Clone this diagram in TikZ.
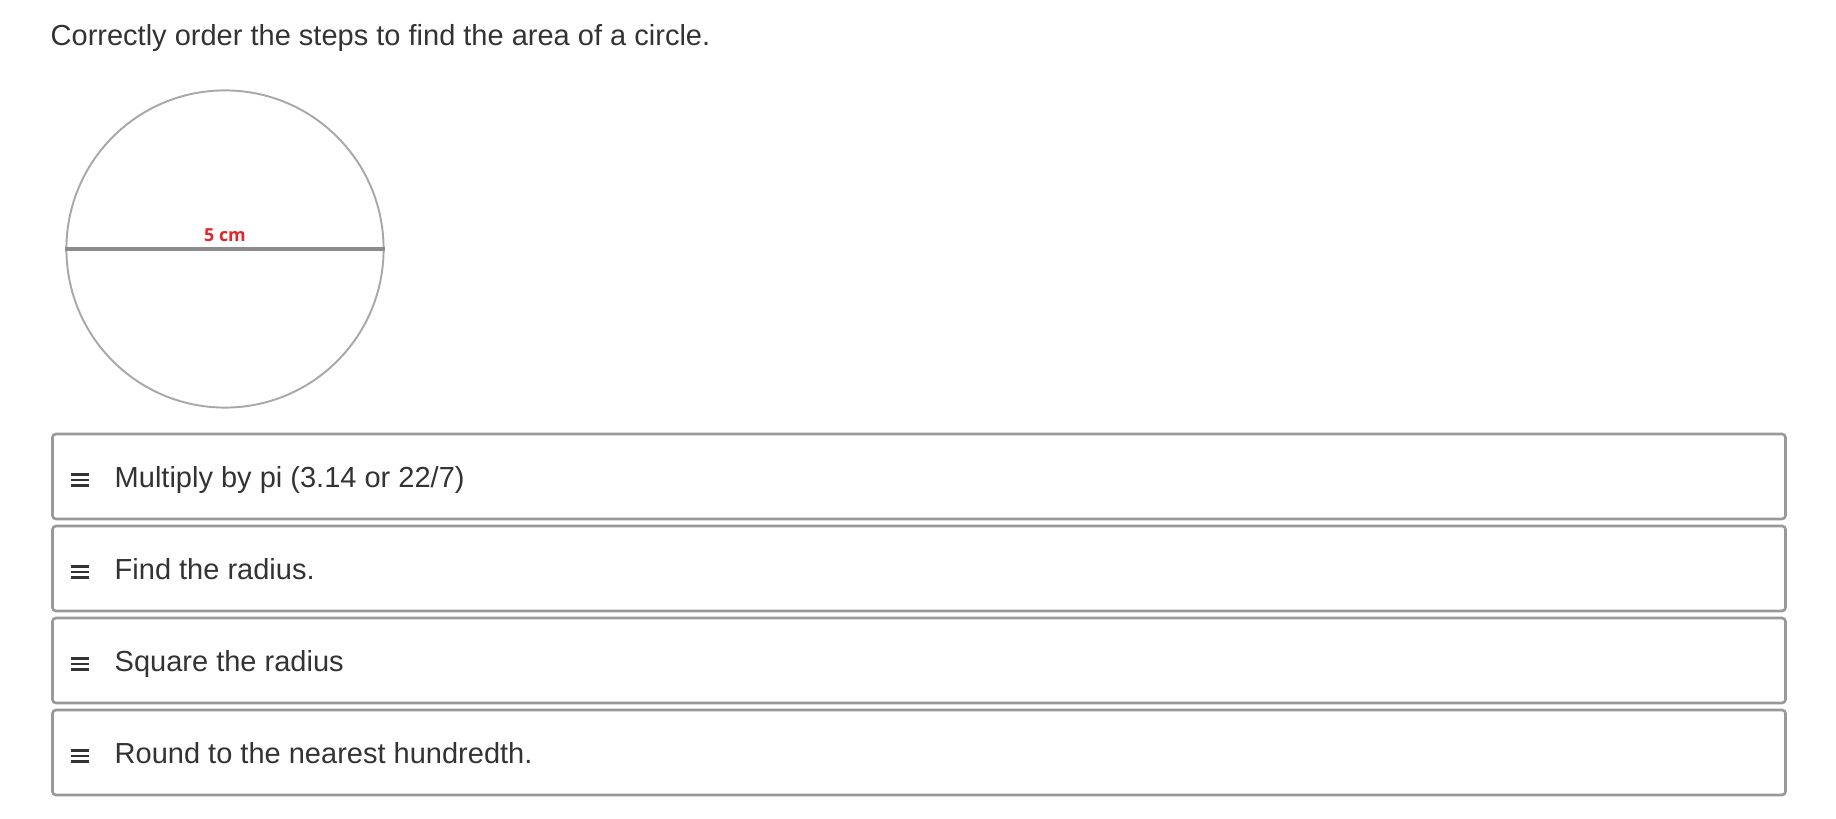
\documentclass[tikz,border=0pt]{standalone}
\usepackage{fontspec}
\setmainfont{Liberation Sans}
\newfontfamily\labelfont{Open Sans}
\definecolor{txtgray}{HTML}{333333}
\definecolor{boxgray}{HTML}{999999}
\definecolor{circgray}{HTML}{A8A8A8}
\definecolor{diamgray}{HTML}{8C8C8C}
\definecolor{labred}{HTML}{E0262B}
\begin{document}
\begin{tikzpicture}[x=0.01cm,y=-0.01cm,
  stepbox/.style={draw=boxgray,line width=0.75pt,rounded corners=1pt,minimum width=17.32cm,minimum height=0.85cm,inner sep=0pt},
  steptext/.style={anchor=base west,inner sep=0pt,text=txtgray,font=\fontsize{8.25}{10}\selectfont},
  grip/.style={draw=txtgray,line width=0.75pt}]
\useasboundingbox (0,0) rectangle (1836,819);
\node[steptext] (title) at (50,46) {Correctly order the steps to find the area of a circle.};
% circle
\node[draw=circgray,line width=0.55pt,circle,minimum size=3.17cm,inner sep=0pt] (circ) at (225,249) {};
\draw[diamgray,line width=1.0pt] (circ.west) -- (circ.east);
\node[anchor=base,inner sep=0pt,text=labred,font=\labelfont\bfseries\fontsize{5.1}{6}\selectfont] (lab) at (225,241.5) {5 cm};
% boxes
\foreach \i/\t in {1/{Multiply by pi (3.14 or 22/7)},2/{Find the radius.},3/{Square the radius},4/{Round to the nearest hundredth.}}{
  \pgfmathsetmacro{\yc}{476.5+92*(\i-1)}
  \node[stepbox] (box\i) at (919,\yc) {};
  \node[steptext] (txt\i) at (114,\yc+11.5) {\t};
  \draw[grip] (71,\yc-1.8) -- (89,\yc-1.8);
  \draw[grip] (71,\yc+3.5) -- (89,\yc+3.5);
  \draw[grip] (71,\yc+8.8) -- (89,\yc+8.8);
}
\end{tikzpicture}
\end{document}
